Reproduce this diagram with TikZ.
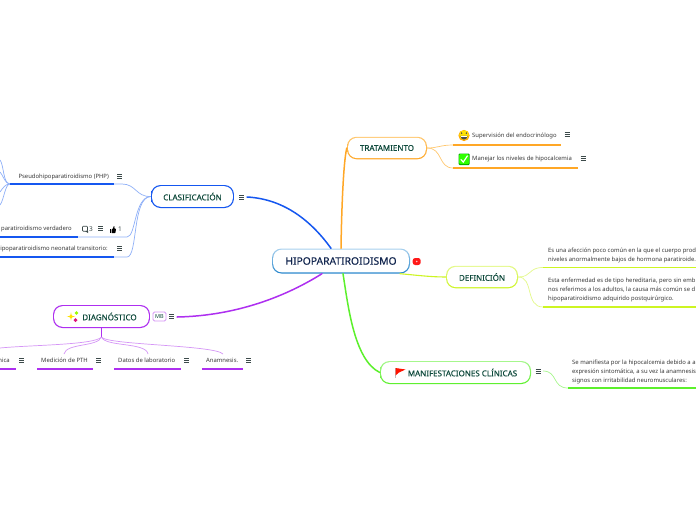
\documentclass[tikz,border=0pt]{standalone}
\usepackage{fontspec}
\setmainfont{Noto Sans}
\newfontfamily\heavy[FakeBold=0.25]{Noto Sans}
\usetikzlibrary{calc}
\definecolor{inka}{HTML}{12264F}
\definecolor{inkb}{HTML}{0F4A3C}
\definecolor{inkc}{HTML}{3A3A3A}
\definecolor{burg}{HTML}{3C4A4A}
\definecolor{rootl}{HTML}{A8D0EE}
\definecolor{rootd}{HTML}{2585CC}
\definecolor{org}{HTML}{FFA726}
\definecolor{orgl}{HTML}{FFC870}
\definecolor{yel}{HTML}{CDF522}
\definecolor{yell}{HTML}{E4F98A}
\definecolor{grn}{HTML}{5CF02C}
\definecolor{grnl}{HTML}{A6F78C}
\definecolor{blu}{HTML}{1557F0}
\definecolor{blul}{HTML}{8FB0F8}
\definecolor{pur}{HTML}{AE2FF0}
\definecolor{purl}{HTML}{D596F6}
\tikzset{
  x=1pt,y=-1pt,
  leaf/.style={inner sep=0pt,anchor=west,text=inkc,font=\fontsize{5.9}{8.6}\selectfont,align=left},
  main/.style={line width=1.5pt,line cap=round},
  thin link/.style={line width=.7pt},
  under/.style={line width=1.4pt},
  topictext/.style={inner sep=0pt,text=inkb,font=\heavy\fontsize{8}{10}\selectfont},
}
% centre x, centre y, width, height, light, dark, name, text
\newcommand\topicbox[8]{%
  \node[minimum width=#3pt,minimum height=#4pt,inner sep=0pt,rounded corners=9.5pt,top color=#5,bottom color=#6] (#7) at (#1,#2) {};
  \node[minimum width=#3pt-2.4pt,minimum height=#4pt-2.4pt,inner sep=0pt,rounded corners=8.5pt,fill=white] at (#1,#2) {};
  \node[topictext] (#7text) at (#1,#2) {#8};}
\newcommand\burger[2]{%
  \draw[burg,line width=.65pt] (#1-2.5,#2-2) -- (#1+2.5,#2-2) (#1-2.5,#2) -- (#1+2.5,#2) (#1-2.5,#2+2) -- (#1+2.5,#2+2);}
\newcommand\sparkle[4]{%
  \fill[#4] (#1,#2-#3) .. controls (#1+.15*#3,#2-.15*#3) .. (#1+#3,#2) .. controls (#1+.15*#3,#2+.15*#3) .. (#1,#2+#3) .. controls (#1-.15*#3,#2+.15*#3) .. (#1-#3,#2) .. controls (#1-.15*#3,#2-.15*#3) .. cycle;}
\begin{document}
\begin{tikzpicture}
\fill[white] (0,0) rectangle (696,520);
\path[use as bounding box,clip] (0,0) rectangle (696,520);

% topics
\topicbox{341}{261}{138}{25}{rootl}{rootd}{root}{\textcolor{inka}{\fontsize{10.3}{13}\selectfont HIPOPARATIROIDISMO}}
\topicbox{387}{148}{80}{22.5}{orgl}{org}{trat}{TRATAMIENTO}
\topicbox{482}{277}{72}{22.5}{yell}{yel}{defi}{DEFINICIÓN}
\topicbox{455.5}{372.5}{151}{23}{grnl}{grn}{mani}{\hspace*{14pt}MANIFESTACIONES CLÍNICAS}
\topicbox{192.5}{196.5}{83}{23}{blu}{blu}{clas}{CLASIFICACIÓN}
\topicbox{101.5}{316.5}{97}{23}{pur}{pur}{diag}{\hspace*{16pt}DIAGNÓSTICO}

% leaf texts
\node[leaf] (sup) at (472,135.5) {Supervisión del endocrinólogo};
\node[leaf] (man) at (472,158.5) {Manejar los niveles de hipocalcemia};
\node[leaf] (def1) at (548,255.5) {Es una afección poco común en la que el cuerpo prod\\niveles anormalmente bajos de hormona paratiroide.};
\node[leaf] (def2) at (548,290) {Esta enfermedad es de tipo hereditaria, pero sin emb\\nos referimos a los adultos, la causa más común se d\\hipoparatiroidismo adquirido postquirúrgico.};
\node[leaf] (mtx) at (572,372) {Se manifiesta por la hipocalcemia debido a a\\expresión sintomática, a su vez la anamnesis\\signos con irritabilidad neuromusculares:};
\node[leaf,anchor=east] (pse) at (109,176.5) {Pseudohipoparatiroidismo (PHP)};
\node[leaf,anchor=east] (ver) at (72,229) {paratiroidismo verdadero};
\node[leaf,anchor=east] (neo) at (108,249) {Hipoparatiroidismo neonatal transitorio:};
\node[leaf,anchor=east] (cli) at (10,360.5) {nica};
\node[leaf,anchor=west] (med) at (41,360.5) {Medición de PTH};
\node[leaf,anchor=west] (dat) at (118,360.5) {Datos de laboratorio};
\node[leaf,anchor=west] (ana) at (206,360.5) {Anamnesis.};

% underline ends
\coordinate (supa) at (453,145); \coordinate (supb) at (561,145);
\coordinate (mana) at (453,168); \coordinate (manb) at (578,168);
\coordinate (defa) at (543,267.5); \coordinate (defb) at (696,267.5);
\coordinate (defc) at (543,307); \coordinate (defd) at (696,307);
\coordinate (mata) at (568,388); \coordinate (matb) at (696,388);
\coordinate (psea) at (10,184); \coordinate (pseb) at (114,184);
\coordinate (vera) at (0,237); \coordinate (verb) at (78,237); \coordinate (verc) at (127,237);
\coordinate (neoa) at (0,257); \coordinate (neob) at (114,257); \coordinate (neoc) at (127,257);
\coordinate (clia) at (0,369); \coordinate (clib) at (16,369);
\coordinate (meda) at (37,369); \coordinate (medb) at (93,369);
\coordinate (data) at (114,369); \coordinate (datb) at (181,369);
\coordinate (anaa) at (202,369); \coordinate (anab) at (243,369);
\coordinate (hub) at (101.5,337);
\coordinate (clitop) at (0,348); \coordinate (medtop) at (64,354); \coordinate (dattop) at (148,354); \coordinate (anatop) at (223,354);
\coordinate (fan1) at (0,160); \coordinate (fan2) at (0,172); \coordinate (fan3) at (0,192); \coordinate (fan4) at (0,205);
\coordinate (clasout) at (247,197); \coordinate (diagout) at (177,317); \coordinate (maniout) at (543,371);

% main branches
\draw[main,org] (root.north) .. controls (341.5,215) and (343,170) .. (346,152) .. controls (346.3,150) .. (trat.west);
\draw[main,blu] (clasout) .. controls (285,199) and (312,222) .. ([xshift=-10pt]root.north);
\draw[main,pur] (diagout) .. controls (230,316) and (280,300) .. ([xshift=-19pt]root.south);
\draw[main,grn] ([xshift=2pt]root.south) .. controls (348,305) and (354,360) .. (mani.west);
\draw[main,yel,line width=1.1pt] ([xshift=59pt]root.south) .. controls (415,275) and (430,277) .. (defi.west);

% thin links
\draw[thin link,orgl] (trat.east) .. controls (438,148) and (440,145) .. (supa);
\draw[thin link,orgl] (trat.east) .. controls (443,148) and (438,168) .. (mana);
\draw[thin link,yell] (defi.east) .. controls (532,277) and (528,267.5) .. (defa);
\draw[thin link,yell] (defi.east) .. controls (534,277) and (525,307) .. (defc);
\draw[thin link,grnl] (maniout) .. controls (558,371) and (552,388) .. (mata);
\draw[thin link,blul] (clas.west) .. controls (136,197) and (136,184) .. (122,184) -- (pseb);
\draw[thin link,blul] (clas.west) .. controls (134,197) and (136,237) .. (verc) -- (verb);
\draw[thin link,blul] (clas.west) .. controls (132,197) and (138,257) .. (neoc) -- (neob);
\draw[thin link,blul] (psea) .. controls (3,184) and (4,165) .. (fan1);
\draw[thin link,blul] (psea) .. controls (5,184) and (3,175) .. (fan2);
\draw[thin link,blul] (psea) .. controls (5,184) and (3,188) .. (fan3);
\draw[thin link,blul] (psea) .. controls (5,184) and (4,200) .. (fan4);
\draw[line width=1pt,pur] (diag.south) -- (hub);
\draw[thin link,purl] (hub) .. controls (95,345) and (30,345) .. (clitop);
\draw[thin link,purl] (hub) .. controls (98,347) and (66,343) .. (medtop);
\draw[thin link,purl] (hub) .. controls (105,347) and (146,342) .. (dattop);
\draw[thin link,purl] (hub) .. controls (106,345) and (215,345) .. (anatop);

% underlines
\draw[under,org] (supa) -- (supb);
\draw[under,org] (mana) -- (manb);
\draw[under,yel] (defa) -- (defb);
\draw[under,yel] (defc) -- (defd);
\draw[under,grn] (mata) -- (matb);
\draw[under,blu] (psea) -- (pseb);
\draw[under,blu] (vera) -- (verb);
\draw[under,blu] (neoa) -- (neob);
\draw[under,pur] (clia) -- (clib);
\draw[under,pur] (meda) -- (medb);
\draw[under,pur] (data) -- (datb);
\draw[under,pur] (anaa) -- (anab);

% burgers
\burger{567}{134.5}\burger{583}{158}\burger{538}{371.5}
\burger{241.5}{197}\burger{119.5}{176.5}\burger{100.5}{228}\burger{119.5}{248.5}
\burger{171.5}{316.5}\burger{21.5}{360.5}\burger{98.5}{360.5}\burger{186.5}{360.5}\burger{248.5}{360.5}

% MB badge
\node[draw=purl,line width=.8pt,rounded corners=1.5pt,minimum width=13pt,minimum height=9pt,inner sep=0pt,text=inkb,font=\fontsize{5.5}{6}\selectfont] (mb) at (159.5,316.5) {MB};

% youtube
\fill[red!90!white,rounded corners=2.5pt] (412.7,258) rectangle (420.7,265);
\fill[red!25!white] (416.7,261.5) circle (.9);

% smiley
\fill[orange!70!yellow] (464,135.5) circle (5.6);
\fill[yellow!85!orange] (464,135) circle (4.8);
\fill[black!70] (461.6,133.2) ellipse (.7 and 1) (466.4,133.2) ellipse (.7 and 1);
\fill[black!70] (460.3,135.8) .. controls (461,140.8) and (467,140.8) .. (467.7,135.8) -- cycle;
\fill[white] (461,136) rectangle (467,137.3);

% check box
\fill[green!65!black,rounded corners=1pt] (458.5,153.5) rectangle (469.5,165);
\fill[green!75!lime,rounded corners=1pt] (459.2,154.2) rectangle (468.8,164.2);
\draw[white,line width=1.2pt] (460.8,159.4) -- (463.3,162) -- (467.6,155.6);

% flag
\fill[black!25] (394.8,378) rectangle (395.8,368);
\fill[red!85!orange] (395.5,368) -- (405.5,369.5) -- (399,372.5) -- (395.5,375.5) -- cycle;

% sparkles
\sparkle{71}{316.5}{4.2}{yellow!85!orange}
\sparkle{76.5}{313}{1.8}{lime!80!green}
\sparkle{75.5}{320}{2}{magenta!70!purple}

% comment and like
\draw[burg,line width=.6pt,rounded corners=.8pt] (82.5,226.2) rectangle (87.5,231.2);
\fill[burg] (85,231) -- (88,231) -- (88,233) -- cycle;
\node[inner sep=0pt,text=burg,font=\fontsize{6.5}{8}\selectfont] (cnt3) at (91,229) {3};
\fill[black] (109.5,229) rectangle (111,233);
\fill[black,rounded corners=.5pt] (111.5,229.5) -- (113,228.5) -- (113.7,226) -- (114.6,226.5) -- (114.3,228.5) -- (116,228.8) -- (115.4,233) -- (111.5,233) -- cycle;
\node[inner sep=0pt,text=burg,font=\fontsize{6.5}{8}\selectfont] (cnt1) at (120,229) {1};
\end{tikzpicture}
\end{document}
